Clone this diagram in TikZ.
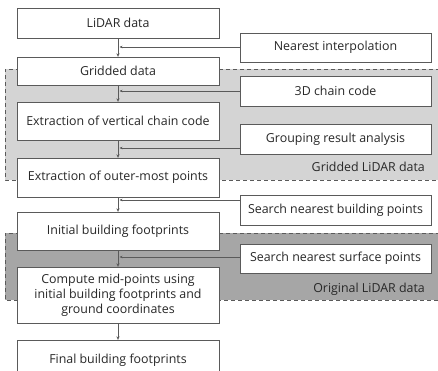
\documentclass[tikz,border=0pt]{standalone}
\usepackage{fontspec}
\setmainfont{Open Sans}
\usetikzlibrary{arrows.meta,shadows}

\definecolor{regionlight}{RGB}{212,212,212}
\definecolor{regiondark}{RGB}{166,166,166}
\definecolor{edgegray}{RGB}{90,90,90}
\definecolor{textgray}{RGB}{40,40,40}

\tikzset{
  box/.style={draw=edgegray, fill=white, text=textgray, minimum width=202pt,
    inner sep=2pt, align=center,
    drop shadow={shadow xshift=1.2pt, shadow yshift=-1.2pt, opacity=0.4}},
  sidebox/.style={box, minimum width=191pt},
  flow/.style={draw=edgegray, -{Stealth[length=3.5pt,width=3.2pt]}},
  feed/.style={draw=edgegray, -{Stealth[length=3pt,width=2.6pt]}},
  region/.style={draw=edgegray, dash pattern=on 4pt off 3pt},
  regionlabel/.style={anchor=east, text=textgray, inner sep=0pt}
}

\begin{document}
\begin{tikzpicture}[x=1pt,y=-1pt,font=\fontsize{12.4}{15}\selectfont]
        \useasboundingbox (0,0) rectangle (438,371);

        % Regioni grigie
        \fill[regionlight] (5,69) rectangle (440,180);
        \draw[region] (440,69) -- (5,69) -- (5,180) -- (440,180);
        \fill[regiondark] (5,233) rectangle (440,300);
        \draw[region] (440,233) -- (5,233) -- (5,300) -- (440,300);
        \node[regionlabel] (lblgrid) at (425,167) {Gridded LiDAR data};
        \node[regionlabel] (lblorig) at (425,289) {Original LiDAR data};

        % Blocchi principali
        \node[box, minimum height=30pt] (lidar) at (118,23) {LiDAR data};
        \node[box, minimum height=28pt] (grid) at (118,71) {Gridded data};
        \node[box, minimum height=38pt] (vert) at (118,121) {Extraction of vertical chain code};
        \node[box, minimum height=39pt] (outer) at (118,177.5) {Extraction of outer-most points};
        \node[box, minimum height=38pt] (init) at (118,231) {Initial building footprints};
        \node[box, minimum height=56pt] (mid) at (118,295)
            {Compute mid-points using\\initial building footprints and\\ground coordinates};
        \node[box, minimum height=40pt] (final) at (118,360) {Final building footprints};

        % Blocchi laterali
        \node[sidebox, minimum height=29pt] (nearest) at (335.5,47.5) {Nearest interpolation};
        \node[sidebox, minimum height=30pt] (chain) at (335.5,91) {3D chain code};
        \node[sidebox, minimum height=30pt] (group) at (335.5,139) {Grouping result analysis};
        \node[sidebox, minimum height=30pt] (searchb) at (335.5,210) {Search nearest building points};
        \node[sidebox, minimum height=29pt] (searchs) at (335.5,258.5) {Search nearest surface points};

        % Punti di innesto
        \coordinate (j1) at (119.5,47);
        \coordinate (j2) at (119.5,91);
        \coordinate (j3) at (119.5,148);
        \coordinate (j4) at (119.5,200);
        \coordinate (j5) at (119.5,257);

        % Frecce
        \draw[flow] (lidar) -- (grid);
        \draw[flow] (grid) -- (vert);
        \draw[flow, line width=1pt] (vert) -- (outer);
        \draw[flow] (outer) -- (init);
        \draw[flow] (init) -- (mid);
        \draw[flow] (mid) -- (final);

        \draw[feed] (nearest.west |- j1) -- (j1);
        \draw[feed] (chain.west |- j2) -- (j2);
        \draw[feed] (group.west |- j3) -- (j3);
        \draw[feed] (searchb.west |- j4) -- (j4);
        \draw[feed] (searchs.west |- j5) -- (j5);
    \end{tikzpicture}
\end{document}
